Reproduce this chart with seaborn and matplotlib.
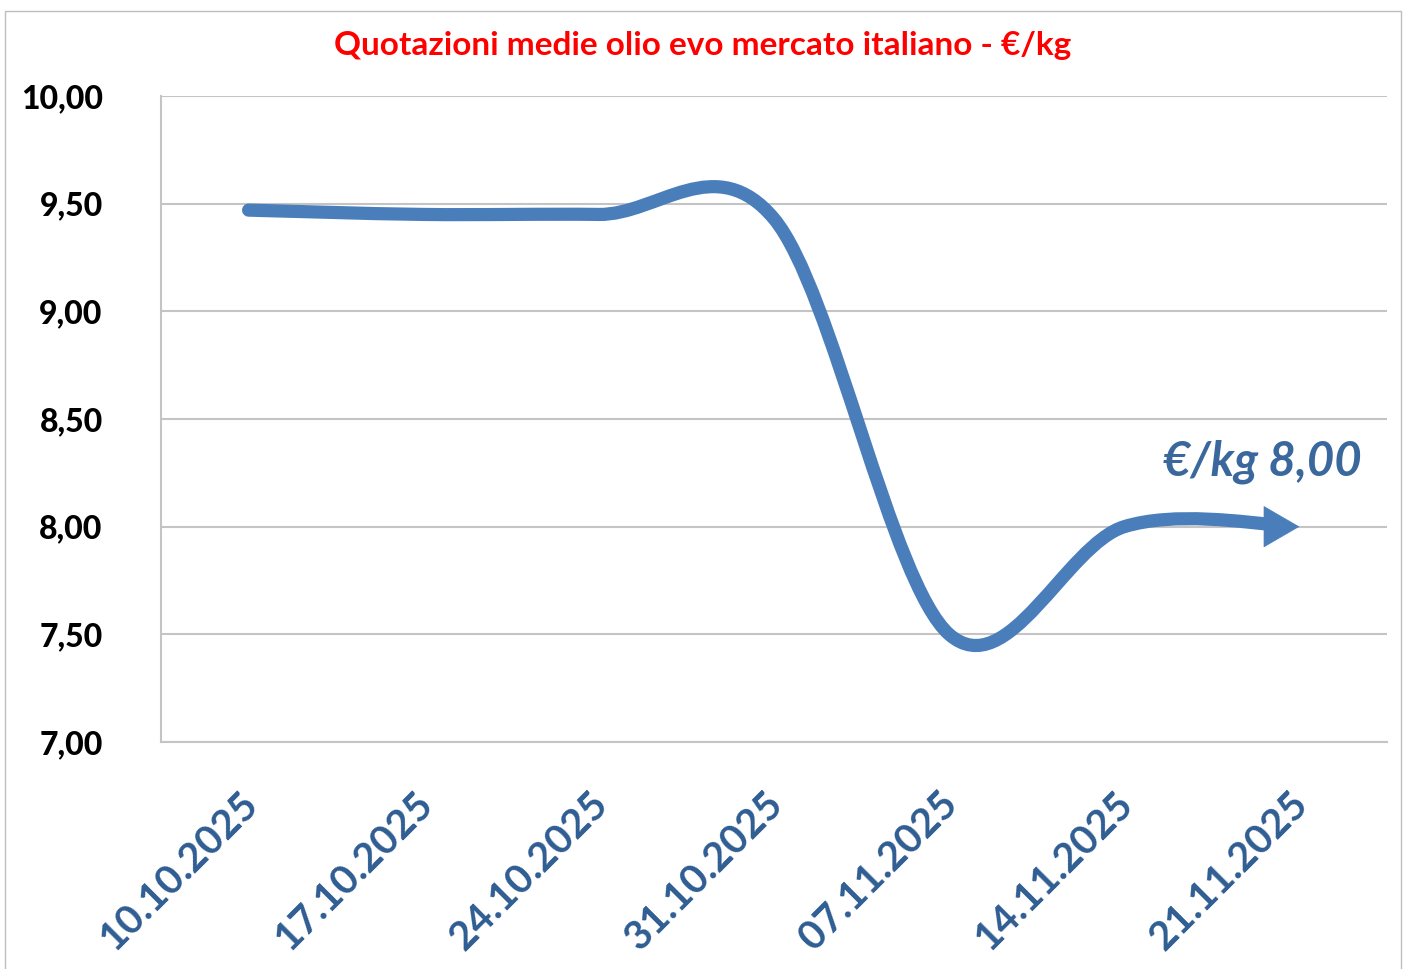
import numpy as np
import pandas as pd
import matplotlib.pyplot as plt
import seaborn as sns
from matplotlib.path import Path
from matplotlib.patches import PathPatch, Rectangle, FancyArrowPatch
from matplotlib.transforms import ScaledTranslation

# dati
dates = ["10.10.2025", "17.10.2025", "24.10.2025", "31.10.2025",
         "07.11.2025", "14.11.2025", "21.11.2025"]
prices = [9.47, 9.45, 9.45, 9.43, 7.50, 8.00, 8.00]
y_ticks = [7.0, 7.5, 8.0, 8.5, 9.0, 9.5, 10.0]
y_labels = ["7,00", "7,50", "8,00", "8,50", "9,00", "9,50", "10,00"]
title = "Quotazioni medie olio evo mercato italiano - €/kg"
last_label = "€/kg 8,00"

LINE = "#4A7EBB"
TICK_BLUE = "#2F5D92"
GRID = "#c4c4c4"

sns.set_style("white")
plt.rcParams['font.family'] = ['Lato', 'DejaVu Sans']

fig = plt.figure(figsize=(14.05, 9.69), dpi=100)
ax = fig.add_axes([161 / 1405, 1 - 742 / 969, 1226 / 1405, 646 / 969])

df = pd.DataFrame({"data": dates, "prezzo": prices})
sns.lineplot(data=df, x="data", y="prezzo", sort=False, linewidth=0, ax=ax)

# curva smussata tipo Excel (bezier cubiche)
pts = np.column_stack([np.arange(len(prices)), np.array(prices, dtype=float)])
prev = np.vstack([pts[:1], pts[:-1]])
nxt = np.vstack([pts[1:], pts[-1:]])
tang = (nxt - prev) / 6

verts = [pts[0]]
codes = [Path.MOVETO]
n = len(pts)
for i in range(n - 1):
    p0, p1, p2, p3 = pts[i], pts[i] + tang[i], pts[i + 1] - tang[i + 1], pts[i + 1]
    if i == n - 2:
        # accorcia l'ultimo tratto sotto la punta della freccia
        t = 0.85
        a = p0 + (p1 - p0) * t
        b = p1 + (p2 - p1) * t
        c = p2 + (p3 - p2) * t
        d = a + (b - a) * t
        e = b + (c - b) * t
        f = d + (e - d) * t
        p1, p2, p3 = a, d, f
    verts += [p1, p2, p3]
    codes += [Path.CURVE4] * 3

curve = PathPatch(Path(verts, codes), fill=False, ec=LINE, lw=9.5,
                  capstyle='round', joinstyle='round', zorder=3)
ax.add_patch(curve)

head = FancyArrowPatch((n - 1.3, prices[-1]), (n - 1, prices[-1]),
                       arrowstyle='-|>,head_length=2.5,head_width=1.45',
                       mutation_scale=10, lw=0.5, color=LINE,
                       shrinkA=0, shrinkB=0, zorder=4)
ax.add_patch(head)

ax.text(5.79, 8.30, last_label, ha='center', va='center', fontsize=34,
        fontweight='bold', fontstyle='italic', color="#3A689D")

ax.set_xlim(-0.5, 6.5)
ax.set_ylim(7.0, 10.0)
ax.set_yticks(y_ticks)
ax.set_yticklabels(y_labels)
ax.set_xlabel("")
ax.set_ylabel("")
ax.grid(axis='y', color=GRID, lw=1.5)
ax.set_axisbelow(True)

for side in ['top', 'right']:
    ax.spines[side].set_visible(False)
for side in ['left', 'bottom']:
    ax.spines[side].set_color(GRID)
    ax.spines[side].set_linewidth(1.5)

ax.tick_params(axis='y', length=0, pad=42, labelsize=23, labelcolor='black')
ax.tick_params(axis='x', length=0, pad=40, labelsize=29, labelcolor=TICK_BLUE)
for lbl in ax.get_yticklabels():
    lbl.set_fontweight('black')
for lbl in ax.get_xticklabels():
    lbl.set_fontweight('bold')
    lbl.set_rotation(45)
    lbl.set_ha('right')
    lbl.set_va('center')
    lbl.set_rotation_mode('anchor')
    lbl.set_transform(lbl.get_transform() + ScaledTranslation(0.03, 0, fig.dpi_scale_trans))

fig.text(703 / 1405, 1 - 45 / 969, title, ha='center', va='center',
         fontsize=24, fontweight='bold', color='#FF0000')

fig.patches.append(Rectangle((5 / 1405, -0.05), 1396 / 1405, 1.05 - 11 / 969,
                             transform=fig.transFigure, fill=False,
                             ec='#bdbdbd', lw=1))

fig.savefig("out.png", dpi=100)
